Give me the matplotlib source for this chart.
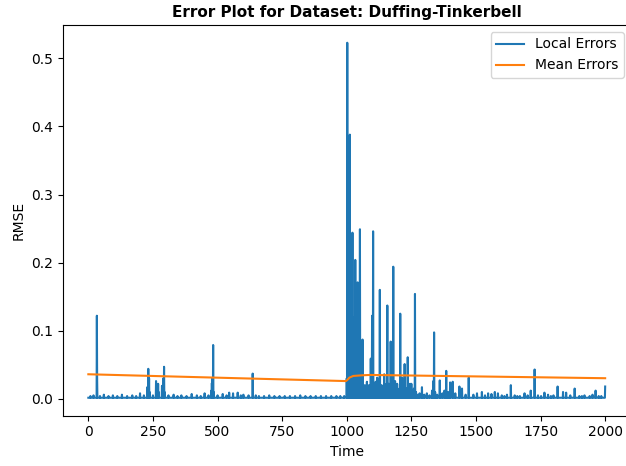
import numpy as np
import matplotlib.pyplot as plt

# local error series: quiet baseline with spikes
n_steps = 2001
base_level = 0.0015

spike_t = [
    # first half
    8, 20, 33, 34, 45, 60, 78, 95, 112, 130, 150, 170, 185, 200, 215, 228, 232,
    235, 237, 250, 262, 266, 270, 272, 285, 290, 293, 295, 310, 330, 345, 360,
    380, 400, 420, 435, 450, 465, 476, 478, 480, 483, 485, 500, 520, 535, 545,
    560, 578, 590, 600, 620, 636, 648, 660, 680, 700, 720, 740, 760, 780, 800,
    820, 840, 860, 880, 900, 920, 940, 960, 975, 990,
    # burst after 1000
    1000, 1002, 1004, 1006, 1008, 1010, 1012, 1014, 1016, 1018, 1020, 1022,
    1024, 1026, 1028, 1030, 1033, 1035, 1038, 1040, 1042, 1044, 1047, 1049,
    1051, 1053, 1055, 1058, 1061, 1063, 1066, 1070, 1074, 1078, 1082, 1086,
    1090, 1093, 1095, 1098, 1100, 1102, 1104, 1108, 1112, 1118, 1122, 1125,
    1128, 1131, 1135, 1140, 1145, 1150, 1154, 1157, 1160, 1163, 1167, 1170,
    1174, 1177, 1180, 1183, 1187, 1191, 1195, 1200, 1204, 1207, 1210, 1214,
    1218, 1224, 1228, 1232, 1236, 1240, 1245, 1250, 1255, 1260, 1264, 1268,
    # tail
    1275, 1282, 1291, 1300, 1310, 1320, 1330, 1335, 1338, 1342, 1350, 1360,
    1370, 1378, 1385, 1392, 1400, 1410, 1420, 1436, 1446, 1460, 1472, 1490,
    1504, 1523, 1535, 1547, 1560, 1573, 1585, 1600, 1610, 1620, 1635, 1650,
    1660, 1670, 1688, 1700, 1712, 1727, 1740, 1752, 1765, 1779, 1790, 1800,
    1816, 1837, 1849, 1865, 1882, 1900, 1910, 1920, 1940, 1951, 1963, 1975,
    1985, 2000,
]
spike_v = [
    0.004, 0.005, 0.122, 0.03, 0.004, 0.006, 0.004, 0.005, 0.004, 0.006, 0.004,
    0.005, 0.004, 0.008, 0.005, 0.017, 0.044, 0.03, 0.01, 0.005, 0.026, 0.02,
    0.022, 0.01, 0.019, 0.03, 0.047, 0.01, 0.005, 0.006, 0.004, 0.005, 0.004,
    0.007, 0.005, 0.004, 0.008, 0.005, 0.012, 0.023, 0.03, 0.079, 0.01, 0.005,
    0.007, 0.005, 0.009, 0.008, 0.009, 0.005, 0.006, 0.005, 0.037, 0.005, 0.004,
    0.004, 0.005, 0.004, 0.004, 0.004, 0.004, 0.004, 0.005, 0.004, 0.004, 0.004,
    0.004, 0.004, 0.004, 0.004, 0.004, 0.004,
    0.03, 0.523, 0.06, 0.04, 0.2, 0.3, 0.388, 0.05, 0.03, 0.15, 0.1, 0.244,
    0.03, 0.015, 0.12, 0.06, 0.204, 0.02, 0.1, 0.03, 0.171, 0.015, 0.05, 0.02,
    0.249, 0.04, 0.01, 0.04, 0.087, 0.01, 0.005, 0.02, 0.012, 0.025, 0.008, 0.02,
    0.01, 0.059, 0.02, 0.122, 0.03, 0.246, 0.02, 0.01, 0.025, 0.031, 0.01, 0.026,
    0.16, 0.012, 0.02, 0.008, 0.036, 0.01, 0.022, 0.137, 0.015, 0.022, 0.01, 0.084,
    0.02, 0.01, 0.194, 0.012, 0.026, 0.01, 0.022, 0.008, 0.015, 0.125, 0.012, 0.031,
    0.008, 0.051, 0.01, 0.015, 0.061, 0.012, 0.022, 0.022, 0.008, 0.015, 0.154, 0.01,
    0.006, 0.008, 0.017, 0.006, 0.008, 0.005, 0.012, 0.026, 0.0975, 0.01, 0.006, 0.027,
    0.008, 0.012, 0.041, 0.01, 0.024, 0.025, 0.008, 0.018, 0.015, 0.006, 0.031, 0.006,
    0.008, 0.01, 0.005, 0.008, 0.007, 0.01, 0.008, 0.005, 0.004, 0.006, 0.02, 0.005,
    0.004, 0.004, 0.008, 0.005, 0.012, 0.043, 0.005, 0.004, 0.009, 0.006, 0.004, 0.005,
    0.018, 0.01, 0.009, 0.005, 0.015, 0.004, 0.004, 0.005, 0.004, 0.006, 0.012, 0.004,
    0.004, 0.018,
]

# running mean of the errors
mean_t = [0, 997, 1003, 1010, 1025, 1060, 1090, 2000]
mean_v = [0.036, 0.026, 0.028, 0.031, 0.0335, 0.0345, 0.035, 0.0302]

time = np.arange(n_steps)
local = np.full(n_steps, base_level)
local[spike_t] = spike_v

fig = plt.figure(figsize=(6.26, 4.66), dpi=100)
ax = fig.add_axes([62.5 / 626, 50.5 / 466, 568.5 / 626, 390.5 / 466])

ax.plot(time, local, color='tab:blue', label='Local Errors')
ax.plot(mean_t, mean_v, color='tab:orange', label='Mean Errors')

ax.set_title('Error Plot for Dataset: Duffing-Tinkerbell', fontsize=11, fontweight='bold')
ax.set_xlabel('Time')
ax.set_ylabel('RMSE')
ax.set_xticks([0, 250, 500, 750, 1000, 1250, 1500, 1750, 2000])
ax.legend(loc='upper right')

fig.savefig('out.png', dpi=100)
